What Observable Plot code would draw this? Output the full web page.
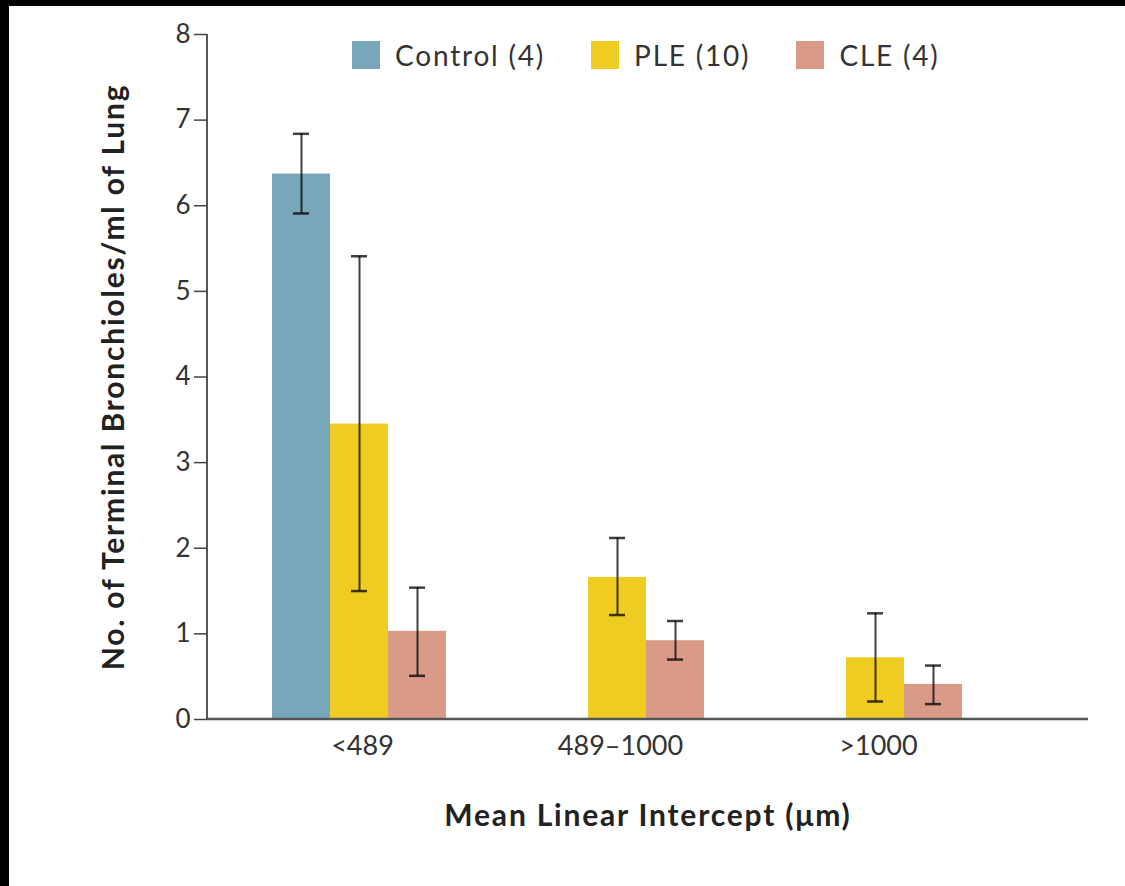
<!DOCTYPE html>
<html>
<head>
<meta charset="utf-8">
<script src="https://cdn.jsdelivr.net/npm/d3@7"></script>
<script src="https://cdn.jsdelivr.net/npm/@observablehq/plot@0.6"></script>
<style>
  html, body { margin: 0; padding: 0; background: #fff; }
  #wrap { position: relative; width: 1125px; height: 886px; overflow: hidden; background: #fff; font-family: Lato, sans-serif; }
  #topband { position: absolute; left: 0; top: 0; width: 1125px; height: 6px; background: #000; z-index: 5; }
  #leftband { position: absolute; left: 0; top: 0; width: 9px; height: 886px; background: #000; z-index: 5; }
  #chart { position: absolute; left: 0; top: 0; }
  #legend { position: absolute; left: 352px; top: 38px; z-index: 3; }
  #legend .lg-swatches { font-family: Lato, sans-serif !important; font-size: 28px !important; letter-spacing: 1.8px; color: #333 !important; margin: 0 !important; min-height: 0 !important; }
  #legend .lg-swatch { margin-right: 46px !important; }
  #legend .lg-swatch > svg { margin-right: 15px !important; }
  #chart g[aria-label="fx-axis label"] text, #chart g[aria-label="y-axis label"] text { font-weight: 700; fill: #222; font-size: 30px; letter-spacing: 1.8px; }
</style>
</head>
<body>
<div id="wrap">
  <div id="topband"></div>
  <div id="leftband"></div>
  <div id="chart"></div>
  <div id="legend"></div>
</div>
<script>
// ---- data ----
const groups = ["<489", "489–1000", ">1000"];
const series = ["Control", "PLE", "CLE"];
const seriesN = [4, 10, 4];
const colors = ["#78a6ba", "#efcc21", "#da9a88"];
const yTicks = [0, 1, 2, 3, 4, 5, 6, 7, 8];

const rowGroup  = ["<489", "<489", "<489", "489–1000", "489–1000", ">1000", ">1000"];
const rowSeries = ["Control", "PLE", "CLE", "PLE", "CLE", "PLE", "CLE"];
const means     = [6.37, 3.45, 1.03, 1.66, 0.92, 0.72, 0.41];
const lows      = [5.91, 1.50, 0.51, 1.22, 0.70, 0.21, 0.18];
const highs     = [6.84, 5.41, 1.54, 2.12, 1.15, 1.24, 0.63];

const xTitle = "Mean Linear Intercept (μm)";
const yTitle = "No. of Terminal Bronchioles/ml of Lung";

// ---- table ----
const data = means.map((m, i) => ({group: rowGroup[i], series: rowSeries[i], mean: m, lo: lows[i], hi: highs[i]}));

const plot = Plot.plot({
  width: 1125,
  height: 886,
  marginLeft: 207,
  marginRight: 37,
  marginTop: 34,
  marginBottom: 167,
  style: {fontFamily: "Lato, sans-serif", background: "transparent", color: "#333", overflow: "visible"},
  fx: {domain: groups, paddingInner: 0, paddingOuter: 0.2008, align: 0},
  x: {domain: series, paddingInner: 0, paddingOuter: 0.72, align: 0.776, axis: null},
  y: {domain: [0, 8]},
  color: {domain: series, range: colors},
  marks: [
    Plot.barY(data, {fx: "group", x: "series", y: "mean", fill: "series"}),
    Plot.ruleX(data, {fx: "group", x: "series", y1: "lo", y2: "hi", stroke: "#000", strokeOpacity: 0.75, strokeWidth: 2}),
    Plot.tickY(data, {fx: "group", x: "series", y: "hi", insetLeft: 21, insetRight: 21, stroke: "#000", strokeOpacity: 0.75, strokeWidth: 2.5}),
    Plot.tickY(data, {fx: "group", x: "series", y: "lo", insetLeft: 21, insetRight: 21, stroke: "#000", strokeOpacity: 0.75, strokeWidth: 2.5}),
    Plot.axisY({
      ticks: yTicks, tickFormat: d => String(d), tickSize: 13, tickPadding: 4,
      fontSize: 26, fill: "#333", stroke: "#444", strokeWidth: 1.5,
      label: yTitle, labelAnchor: "center", labelArrow: false, labelOffset: 105
    }),
    Plot.axisFx({
      anchor: "bottom", tickSize: 0, tickPadding: 16, fontSize: 27, fill: "#333", dx: 26,
      label: null
    }),
    Plot.axisFx({
      anchor: "bottom", tickSize: 0, ticks: [],
      label: xTitle, labelAnchor: "center", labelArrow: false, labelOffset: 106
    })
  ]
});

// axis lines drawn through the plot's own scales
const ys = plot.scale("y");
const fxs = plot.scale("fx");
const svg = d3.select(plot);
svg.append("line")
  .attr("x1", fxs.range[0]).attr("x2", fxs.range[1])
  .attr("y1", ys.apply(0)).attr("y2", ys.apply(0))
  .attr("stroke", "#555").attr("stroke-width", 2.5);
svg.append("line")
  .attr("x1", fxs.range[0]).attr("x2", fxs.range[0])
  .attr("y1", ys.apply(0)).attr("y2", ys.apply(yTicks[yTicks.length - 1]))
  .attr("stroke", "#444").attr("stroke-width", 1.8);

// center the x title on the full frame (Plot centers it on the facet bands)
const bandsCenter = (fxs.apply(groups[0]) + fxs.apply(groups[groups.length - 1]) + fxs.bandwidth) / 2;
const frameCenter = (fxs.range[0] + fxs.range[1]) / 2;
svg.selectAll('g[aria-label="fx-axis label"] text').attr("dx", frameCenter - bandsCenter);

document.getElementById("chart").appendChild(plot);

const legend = Plot.legend({
  color: {domain: series, range: colors},
  legend: "swatches",
  swatchSize: 28,
  className: "lg",
  tickFormat: d => `${d} (${seriesN[series.indexOf(d)]})`
});
document.getElementById("legend").appendChild(legend);
</script>
</body>
</html>
